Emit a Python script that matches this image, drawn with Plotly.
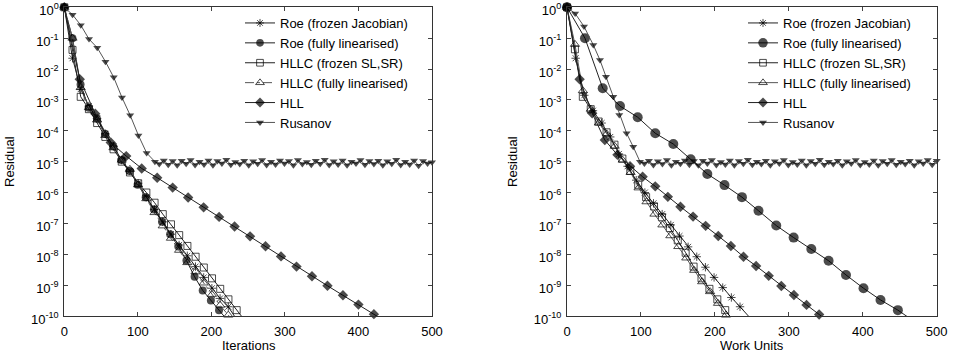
import numpy as np
import plotly.graph_objects as go

# ---------------- data (exponents of the residual, log10) ----------------
# Left panel: residual vs iterations
L_star_x = [0, 11.15, 22.3, 33.45, 44.6, 55.75, 66.9, 78.05, 89.2, 100.35, 111.5, 122.65, 133.8, 144.95,
            156.1, 167.25, 178.4, 189.55, 200.7, 211.85, 223.0, 234.0]
L_star_e = [0, -1.65, -2.65, -3.2, -3.6, -4.1, -4.5, -4.95, -5.3, -5.7, -6.15, -6.55, -6.95, -7.35,
            -7.7, -8.05, -8.4, -8.75, -9.10, -9.43, -9.70, -10.1]
L_circ_x = [0, 11.1, 22.1, 33.2, 44.3, 55.4, 66.4, 77.5, 88.6, 99.7, 110.7, 121.8, 132.9, 143.9,
            155.0, 166.1, 177.2, 188.2, 199.3, 210.4, 221.5]
L_circ_e = [0, -1.0, -2.5, -3.25, -3.6, -4.1, -4.5, -4.95, -5.3, -5.75, -6.15, -6.55, -6.95, -7.35,
            -7.75, -8.2, -8.73, -9.17, -9.5, -9.81, -10.13]
L_sq_x = [0, 11.16, 22.32, 33.48, 44.64, 55.8, 66.96, 78.12, 89.28, 100.44, 111.6, 122.76, 133.92,
          145.08, 156.24, 167.4, 178.56, 189.72, 200.88, 212.04, 223.2, 234.4, 245.6]
L_sq_e = [0, -1.38, -2.9, -3.3, -3.75, -4.2, -4.6, -5.0, -5.35, -5.7, -6.0, -6.33, -6.7,
          -7.03, -7.38, -7.73, -8.08, -8.43, -8.78, -9.12, -9.46, -9.81, -10.15]
L_tri_x = [0, 11.15, 22.3, 33.45, 44.6, 55.75, 66.9, 78.05, 89.2, 100.35, 111.5, 122.65, 133.8, 144.95,
           156.1, 167.25, 178.4, 189.55, 200.7, 211.85, 223.0, 234.2]
L_tri_e = [0, -1.0, -2.6, -3.25, -3.65, -4.15, -4.55, -4.95, -5.25, -5.75, -6.2, -6.65, -7.08, -7.48,
           -7.87, -8.27, -8.57, -8.93, -9.3, -9.65, -9.97, -10.3]
L_hll_x = [0, 21.05, 42.1, 63.15, 84.2, 105.25, 126.3, 147.35, 168.4, 189.45, 210.5, 231.55, 252.6,
           273.65, 294.7, 315.75, 336.8, 357.85, 378.9, 399.95, 421.0, 442.0]
L_hll_e = [0, -2.33, -3.45, -4.38, -4.82, -5.22, -5.52, -5.84, -6.16, -6.48, -6.79, -7.1, -7.42,
           -7.74, -8.07, -8.4, -8.71, -9.02, -9.33, -9.63, -9.94, -10.25]
L_rus_x = [0, 11.2, 22.4, 33.6, 44.8, 56.0, 67.2, 78.4, 89.6, 100.8, 112.0, 123.2]
L_rus_e = [0, -0.24, -0.58, -1.03, -1.31, -1.76, -2.27, -2.92, -3.5, -4.15, -4.72, -5.0]
L_rus_flat_e = [-5.08, -4.96, -5.10, -4.98, -5.12, -4.97, -5.07, -4.95, -5.11, -5.00,
                -5.09, -4.96, -5.12, -4.98, -5.06, -4.94, -5.10, -5.01, -5.08, -4.97,
                -5.12, -4.99, -5.07, -4.95, -5.11, -5.00, -5.09, -4.96, -5.06, -4.98,
                -5.12, -4.95, -5.08, -5.01, -5.10, -4.97, -5.07, -4.94, -5.11, -4.99,
                -5.09, -4.96, -5.12, -5.00, -5.06, -4.95, -5.10, -4.98, -5.08, -4.97,
                -5.12, -4.99, -5.07, -4.94, -5.11, -5.00, -5.09, -4.96, -5.13, -4.98,
                -5.06, -5.02]

# Right panel: residual vs work units
R_star_x = [0, 11.7, 23.4, 35.1, 46.8, 58.5, 70.2, 81.9, 93.6, 105.3, 117.0, 128.7, 140.4, 152.1,
            163.8, 175.5, 187.2, 198.9, 210.6, 222.3, 234.0, 257.4]
R_star_e = [0, -1.65, -2.85, -3.35, -3.75, -4.2, -4.75, -5.15, -5.6, -6.0, -6.35, -6.7, -7.05, -7.41,
            -7.76, -8.08, -8.42, -8.75, -9.08, -9.4, -9.7, -10.32]
R_circ_x = [0, 24.3, 48.3, 71.7, 95.6, 119.4, 143.8, 167.3, 189.8, 213.0, 236.6, 259.0, 283.0, 306.5,
            330.4, 353.8, 377.3, 401.0, 424.0, 447.5, 471.0]
R_circ_e = [0, -1.0, -2.62, -3.2, -3.56, -4.08, -4.43, -4.92, -5.40, -5.76, -6.15, -6.59, -7.07, -7.46,
            -7.83, -8.21, -8.67, -9.10, -9.48, -9.81, -10.2]
R_sq_x = [0, 10.7, 21.4, 32.1, 42.8, 53.5, 64.2, 74.9, 85.6, 96.3, 107.0, 117.7, 128.4, 139.1,
          149.8, 160.5, 171.2, 181.9, 192.6, 203.3, 214.0, 224.7]
R_sq_e = [0, -1.36, -2.9, -3.3, -3.7, -4.05, -4.45, -4.9, -5.3, -5.75, -6.15, -6.45, -6.8, -7.15,
          -7.55, -7.95, -8.4, -8.78, -9.12, -9.46, -9.81, -10.15]
R_tri_x = [0, 10.75, 21.5, 32.25, 43.0, 53.75, 64.5, 75.25, 86.0, 96.75, 107.5, 118.25, 129.0, 139.75,
           150.5, 161.25, 172.0, 182.75, 193.5, 204.25, 215.0, 225.75]
R_tri_e = [0, -1.2, -2.7, -3.3, -3.75, -4.1, -4.5, -4.95, -5.35, -5.85, -6.3, -6.7, -7.05, -7.4,
           -7.75, -8.12, -8.52, -8.89, -9.21, -9.59, -9.97, -10.35]
R_hll_x = [0, 17.05, 34.1, 51.15, 68.2, 85.25, 102.3, 119.35, 136.4, 153.45, 170.5, 187.55, 204.6,
           221.65, 238.7, 255.75, 272.8, 289.85, 306.9, 323.95, 341.0, 358.0]
R_hll_e = [0, -2.33, -3.43, -4.3, -4.78, -5.15, -5.49, -5.80, -6.14, -6.46, -6.78, -7.08, -7.41,
           -7.73, -8.08, -8.38, -8.70, -9.03, -9.32, -9.64, -9.95, -10.26]
R_rus_x = [0, 11.0, 23.0, 35.6, 44.6, 52.7, 62.6, 70.7, 80.6, 89.6, 98.7]
R_rus_e = [0, -0.2, -0.62, -1.22, -1.71, -2.25, -2.9, -3.49, -4.08, -4.52, -5.0]
R_rus_flat_e = [-5.06, -4.97, -5.11, -4.99, -5.08, -4.95, -5.12, -5.00, -5.07, -4.96,
                -5.10, -4.98, -5.12, -4.97, -5.06, -4.95, -5.11, -5.01, -5.09, -4.96,
                -5.12, -4.98, -5.07, -4.94, -5.10, -5.00, -5.08, -4.97, -5.12, -4.99,
                -5.06, -4.95, -5.11, -5.01, -5.09, -4.96, -5.12, -4.98, -5.07, -4.94,
                -5.10, -5.00, -5.08, -4.97, -5.12, -4.99, -5.06, -4.95, -5.11, -5.01,
                -5.09, -4.96, -5.12, -4.98, -5.07, -4.95, -5.10, -5.00, -5.08, -4.97,
                -5.12, -4.99, -5.06, -4.95, -5.10, -4.97]

names = ["Roe (frozen Jacobian)", "Roe (fully linearised)", "HLLC (frozen SL,SR)",
         "HLLC (fully linearised)", "HLL", "Rusanov"]
ytick_exp = list(range(0, -11, -1))
xtick_vals = [0, 100, 200, 300, 400, 500]

# ---------------- build ----------------
FONT = "Liberation Sans, Arial, sans-serif"
fig = go.Figure()

def sizes(n, s, hide_last=True):
    arr = [s] * n
    if hide_last:
        arr[-1] = 0
    return arr

def add(x, e, name, style, xa, ya, legend, hide_last=True):
    n = len(x)
    fig.add_trace(go.Scatter(
        x=x, y=[10.0 ** v for v in e], name=name, mode="lines+markers",
        xaxis=xa, yaxis=ya, legend=legend, cliponaxis=False,
        line=dict(color=style["lc"], width=1, dash=style.get("dash", "solid")),
        marker=dict(symbol=style["sym"], size=sizes(n, style["size"], hide_last),
                    color=style["mc"], line=dict(color="black", width=style.get("mlw", 0)))))

st_star = dict(sym="asterisk-open", size=7, mc="black", lc="#222", mlw=1)
st_circ_l = dict(sym="circle", size=8, mc="black", lc="#222")
st_circ_r = dict(sym="circle", size=10, mc="black", lc="#222")
st_sq = dict(sym="square-open", size=7, mc="black", lc="#222", mlw=1)
st_tri = dict(sym="triangle-up-open", size=8, mc="black", lc="#555", mlw=1)
st_hll = dict(sym="diamond", size=8, mc="black", lc="#222")
st_rus = dict(sym="triangle-down", size=7, mc="black", lc="#555")

# left
add(L_star_x, L_star_e, names[0], st_star, "x", "y", "legend")
add(L_circ_x, L_circ_e, names[1], st_circ_l, "x", "y", "legend")
add(L_sq_x, L_sq_e, names[2], st_sq, "x", "y", "legend")
add(L_tri_x, L_tri_e, names[3], dict(st_tri, dash="dashdot"), "x", "y", "legend")
add(L_hll_x, L_hll_e, names[4], st_hll, "x", "y", "legend")
lrx = L_rus_x + list(np.linspace(L_rus_x[-1] + 6.0, 500, len(L_rus_flat_e)))
add(lrx, L_rus_e + L_rus_flat_e, names[5], st_rus, "x", "y", "legend", hide_last=False)

# right
add(R_star_x, R_star_e, names[0], st_star, "x2", "y2", "legend2")
add(R_circ_x, R_circ_e, names[1], st_circ_r, "x2", "y2", "legend2")
add(R_sq_x, R_sq_e, names[2], st_sq, "x2", "y2", "legend2")
add(R_tri_x, R_tri_e, names[3], st_tri, "x2", "y2", "legend2")
add(R_hll_x, R_hll_e, names[4], st_hll, "x2", "y2", "legend2")
rrx = R_rus_x + list(np.linspace(R_rus_x[-1] + 6.0, 500, len(R_rus_flat_e)))
add(rrx, R_rus_e + R_rus_flat_e, names[5], st_rus, "x2", "y2", "legend2", hide_last=False)

W, H = 964, 358
tickfont = dict(family=FONT, size=13, color="black")
xcommon = dict(range=[0, 500], tickvals=xtick_vals, ticks="inside", ticklen=4, showline=True,
               linecolor="#333", linewidth=1, mirror="ticks", showgrid=False, zeroline=False,
               tickfont=tickfont, ticklabelstandoff=3, automargin=False,
               ticklabeloverflow="allow")
ycommon = dict(type="log", range=[-10, 0], tickvals=[10.0 ** v for v in ytick_exp],
               ticktext=["10<sup>%d</sup>" % v for v in ytick_exp], ticks="inside", ticklen=4,
               showline=True, linecolor="#333", linewidth=1, mirror="ticks", showgrid=False,
               zeroline=False, tickfont=tickfont, automargin=False, ticklabeloverflow="allow",
               ticklabelstandoff=2, ticklabelshift=3)

ytop, ybot = 7.3, 316.0
ydom = [1 - ybot / H, 1 - ytop / H]
legfont = dict(family=FONT, size=13, color="black")
fig.update_layout(
    template="none",
    width=W, height=H, margin=dict(l=0, r=0, t=0, b=0, pad=0, autoexpand=False),
    paper_bgcolor="white", plot_bgcolor="white",
    font=dict(family=FONT, size=13, color="black"),
    xaxis=dict(xcommon, domain=[64.3 / W, 432.0 / W], anchor="y"),
    yaxis=dict(ycommon, domain=ydom, anchor="x"),
    xaxis2=dict(xcommon, domain=[567.0 / W, 936.7 / W], anchor="y2"),
    yaxis2=dict(ycommon, domain=ydom, anchor="x2"),
    legend=dict(x=240 / W, y=1 - 8 / H, xanchor="left", yanchor="top", bgcolor="rgba(0,0,0,0)",
                font=legfont, itemsizing="trace", tracegroupgap=0, borderwidth=0),
    legend2=dict(x=743 / W, y=1 - 8 / H, xanchor="left", yanchor="top", bgcolor="rgba(0,0,0,0)",
                 font=legfont, itemsizing="trace", tracegroupgap=0, borderwidth=0),
    showlegend=True,
    annotations=[
        dict(text="Residual", x=9 / W, y=1 - 162 / H, xref="paper", yref="paper", textangle=-90,
             xanchor="center", yanchor="middle", showarrow=False, font=dict(family=FONT, size=13)),
        dict(text="Residual", x=512 / W, y=1 - 162 / H, xref="paper", yref="paper", textangle=-90,
             xanchor="center", yanchor="middle", showarrow=False, font=dict(family=FONT, size=13)),
        dict(text="Iterations", x=249 / W, y=1 - 345 / H, xref="paper", yref="paper",
             xanchor="center", yanchor="middle", showarrow=False, font=dict(family=FONT, size=13)),
        dict(text="Work Units", x=752 / W, y=1 - 345 / H, xref="paper", yref="paper",
             xanchor="center", yanchor="middle", showarrow=False, font=dict(family=FONT, size=13)),
    ],
)

fig.write_html("out.html")
